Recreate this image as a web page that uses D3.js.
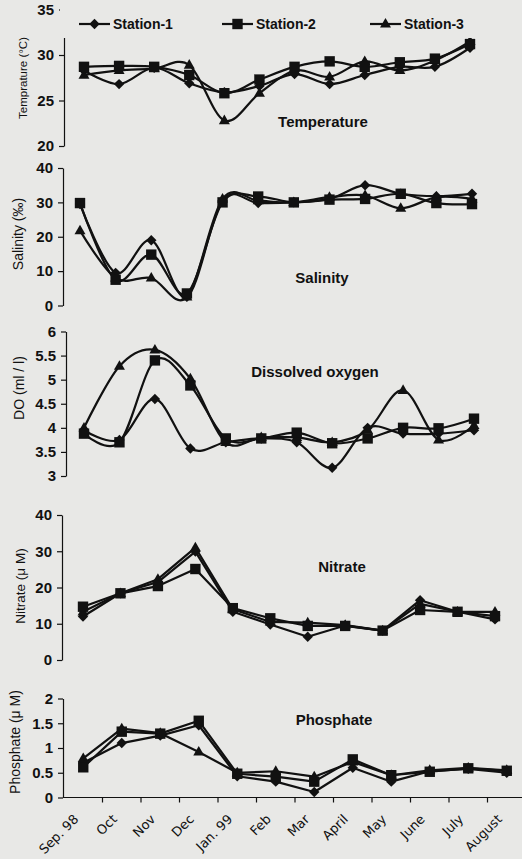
<!DOCTYPE html>
<html><head><meta charset="utf-8">
<script src="https://cdn.jsdelivr.net/npm/d3@7"></script>
<style>
html,body{margin:0;padding:0;background:#e8e8e6;}
svg{display:block;}
</style></head>
<body>
<svg id="chart" width="522" height="859"></svg>
<script>
const months = ["Sep. 98","Oct","Nov","Dec","Jan. 99","Feb","Mar","April","May","June","July","August"];
const stations = ["Station-1","Station-2","Station-3"];

const temp1 = [28.3, 26.8, 28.6, 26.9, 25.9, 26.6, 27.9, 26.8, 27.8, 28.7, 28.7, 30.8];
const temp2 = [28.7, 28.8, 28.7, 27.8, 25.8, 27.3, 28.7, 29.3, 28.7, 29.2, 29.6, 31.2];
const temp3 = [27.8, 28.3, 28.5, 28.9, 22.8, 25.8, 28.3, 27.6, 29.3, 28.3, 29.4, 31.5];

const sal1 = [29.5, 9.5, 19.0, 2.5, 30.5, 29.8, 30.0, 31.0, 35.0, 32.5, 31.8, 32.5];
const sal2 = [29.8, 7.5, 14.8, 3.5, 30.0, 31.7, 30.0, 30.8, 31.0, 32.5, 29.8, 29.5];
const sal3 = [21.8, 8.0, 8.0, 2.5, 31.0, 30.5, 30.0, 31.5, 32.0, 28.3, 31.5, 31.0];

const do1 = [3.95, 3.75, 4.60, 3.57, 3.70, 3.78, 3.70, 3.17, 4.00, 3.88, 3.88, 3.95];
const do2 = [3.88, 3.70, 5.40, 4.88, 3.78, 3.78, 3.90, 3.68, 3.78, 4.00, 3.99, 4.19];
const do3 = [4.00, 5.28, 5.62, 5.02, 3.70, 3.80, 3.80, 3.70, 3.95, 4.78, 3.75, 4.05];

const nit1 = [12.0, 18.4, 21.5, 29.9, 13.3, 9.8, 6.4, 9.5, 8.1, 16.5, 13.3, 11.2];
const nit2 = [14.7, 18.4, 20.4, 25.1, 14.3, 11.5, 9.4, 9.4, 8.1, 13.8, 13.3, 12.1];
const nit3 = [13.3, 18.4, 22.3, 31.0, 14.0, 10.5, 10.3, 9.6, 8.1, 15.5, 13.3, 13.3];

const pho1 = [0.70, 1.10, 1.25, 1.46, 0.43, 0.32, 0.11, 0.60, 0.32, 0.53, 0.58, 0.50];
const pho2 = [0.61, 1.33, 1.29, 1.55, 0.48, 0.42, 0.32, 0.77, 0.45, 0.52, 0.59, 0.54];
const pho3 = [0.79, 1.39, 1.30, 0.92, 0.50, 0.53, 0.42, 0.72, 0.45, 0.55, 0.60, 0.55];

const tempTicks = [20, 25, 30, 35];
const salTicks = [0, 10, 20, 30, 40];
const doTicks = [3, 3.5, 4, 4.5, 5, 5.5, 6];
const nitTicks = [0, 10, 20, 30, 40];
const phoTicks = [0, 0.5, 1, 1.5, 2];

const svg = d3.select("#chart");
const BG = "#e8e8e6";
const INK = "#111";
const FONT = "'Liberation Sans', Arial, sans-serif";

function markerPath(type, x, y) {
  const p = d3.path();
  if (type === 0) { const r = 5.2; p.moveTo(x, y - r); p.lineTo(x + r, y); p.lineTo(x, y + r); p.lineTo(x - r, y); p.closePath(); }
  else if (type === 1) { const h = 5.2; p.rect(x - h, y - h, 2 * h, 2 * h); }
  else { const s = 11, ht = s * 0.866; p.moveTo(x, y - ht * 0.62); p.lineTo(x + s / 2, y + ht * 0.38); p.lineTo(x - s / 2, y + ht * 0.38); p.closePath(); }
  return p.toString();
}

const panels = [
  {series:[temp1,temp2,temp3], ticks:tempTicks, dom:[20,35], yr:[146,9.5], xr:[84,470], ax:64, smooth:true,
   title:"Temperature", tx:323, ty:127, yt:"Temprature (°C)", ytx:27, yty:78, yts:11.5},
  {series:[sal1,sal2,sal3], ticks:salTicks, dom:[0,40], yr:[305.5,168], xr:[80,472], ax:63, smooth:true,
   title:"Salinity", tx:322, ty:283, yt:"Salinity (‰)", ytx:23, yty:234, yts:14},
  {series:[do1,do2,do3], ticks:doTicks, dom:[3,6], yr:[476,331.5], xr:[84,474], ax:66, smooth:true,
   title:"Dissolved oxygen", tx:315, ty:377, yt:"DO (ml / l)", ytx:24, yty:388, yts:14},
  {series:[nit1,nit2,nit3], ticks:nitTicks, dom:[0,40], yr:[660,515], xr:[83,495], ax:62, smooth:false,
   title:"Nitrate", tx:342, ty:572, yt:"Nitrate (μ M)", ytx:25, yty:586, yts:13.5},
  {series:[pho1,pho2,pho3], ticks:phoTicks, dom:[0,2], yr:[797.5,698.5], band:[64,526], ax:63, smooth:false,
   title:"Phosphate", tx:334, ty:725, yt:"Phosphate (μ M)", ytx:20, yty:742, yts:14, xaxis:true}
];

panels.forEach((P, pi) => {
  const g = svg.append("g");
  const y = d3.scaleLinear().domain(P.dom).range(P.yr);
  let xf;
  let xb = null;
  if (P.band) {
    xb = d3.scaleBand().domain(months).range(P.band).padding(0);
    xf = m => xb(m) + xb.bandwidth() / 2;
  } else {
    const xp = d3.scalePoint().domain(months).range(P.xr);
    xf = m => xp(m);
  }

  const yAxis = d3.axisLeft(y).tickValues(P.ticks).tickSize(5).tickSizeOuter(0).tickPadding(5).tickFormat(d => String(d));
  const ga = g.append("g").attr("transform", `translate(${P.ax},0)`).call(yAxis);
  ga.select(".domain").attr("stroke", INK).attr("stroke-width", 1.2);
  ga.selectAll(".tick line").attr("stroke", INK).attr("stroke-width", 1.2);
  ga.selectAll(".tick text").attr("fill", INK).style("font-family", FONT).style("font-weight", "bold").style("font-size", "15px");

  if (P.xaxis) {
    const gx = g.append("g").attr("transform", `translate(0,${P.yr[0]})`);
    gx.append("line").attr("x1", P.band[0]).attr("x2", 522).attr("y1", 0).attr("y2", 0).attr("stroke", INK).attr("stroke-width", 1.2);
    gx.selectAll("line.bt").data(months.slice(1)).join("line").attr("class", "bt")
      .attr("x1", m => xb(m)).attr("x2", m => xb(m)).attr("y1", 0).attr("y2", 5)
      .attr("stroke", INK).attr("stroke-width", 1.2);
    gx.selectAll("text.xl").data(months).join("text").attr("class", "xl")
      .attr("transform", m => `translate(${xf(m) - 4},${820 - P.yr[0]}) rotate(-45)`)
      .attr("text-anchor", "end")
      .attr("fill", INK)
      .style("font-family", "'DejaVu Sans', sans-serif")
      .style("font-size", "13px")
      .text(m => m);
  }

  const line = d3.line()
    .x((d, i) => xf(months[i]))
    .y(d => y(d))
    .curve(P.smooth ? d3.curveCardinal.tension(0) : d3.curveLinear);

  P.series.forEach(s => {
    g.append("path").attr("d", line(s)).attr("fill", "none").attr("stroke", INK).attr("stroke-width", 2.2).attr("stroke-linejoin", "round");
  });
  [0, 2, 1].forEach(k => {
    g.selectAll(null).data(P.series[k]).join("path")
      .attr("d", (d, i) => markerPath(k, xf(months[i]), y(d)))
      .attr("fill", INK);
  });

  g.append("text").attr("x", P.tx).attr("y", P.ty).attr("text-anchor", "middle")
    .attr("fill", INK).style("font-family", FONT).style("font-weight", "bold").style("font-size", "15px").text(P.title);
  g.append("text").attr("transform", `translate(${P.ytx},${P.yty}) rotate(-90)`).attr("text-anchor", "middle")
    .attr("fill", INK).style("font-family", FONT).style("font-size", P.yts + "px").text(P.yt);

  if (pi === 0) {
    const lg = g.append("g");
    lg.append("rect").attr("x", 60).attr("y", 0).attr("width", 430).attr("height", 38).attr("fill", BG);
    const lx = [79, 222, 370];
    stations.forEach((name, k) => {
      lg.append("line").attr("x1", lx[k]).attr("x2", lx[k] + 31).attr("y1", 24).attr("y2", 24).attr("stroke", INK).attr("stroke-width", 2.2);
      lg.append("path").attr("d", markerPath(k, lx[k] + 15.5, 24)).attr("fill", INK);
      lg.append("text").attr("x", lx[k] + 34).attr("y", 29).attr("fill", INK)
        .style("font-family", FONT).style("font-weight", "bold").style("font-size", "14px").text(name);
    });
  }
});
</script>
</body></html>
